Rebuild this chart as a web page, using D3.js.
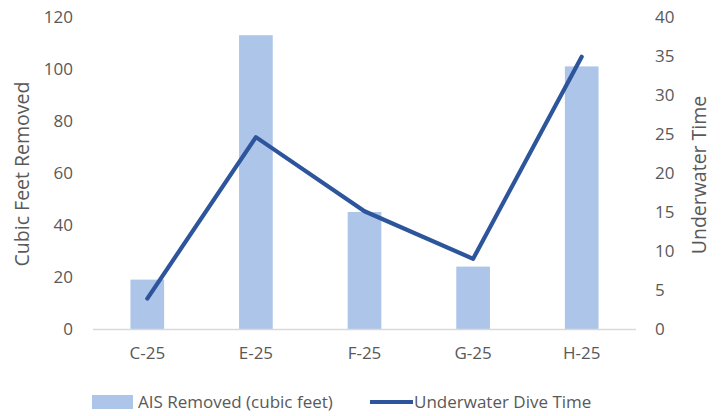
<!DOCTYPE html>
<html><head><meta charset="utf-8">
<script src="https://cdn.jsdelivr.net/npm/d3@7"></script>
<style>body{margin:0;background:#fff}svg{display:block}text{font-family:"Open Sans","Noto Sans",sans-serif;fill:#595959}</style>
</head><body><svg id="c" width="723" height="416"></svg>
<script>
const categories = ["C-25","E-25","F-25","G-25","H-25"];
const aisRemoved = [19, 113, 45, 24, 101];
const diveTime = [3.9, 24.6, 15.1, 9.0, 34.9];
const leftTicks = [0,20,40,60,80,100,120];
const rightTicks = [0,5,10,15,20,25,30,35,40];

const svg = d3.select("#c");
const L = 93, R = 636, T = 17, B = 329;
const x = d3.scaleBand().domain(categories).range([L, R]).paddingInner(0.69).paddingOuter(0.345);
const xc = d3.scaleBand().domain(categories).range([L, R]);
const yL = d3.scaleLinear().domain([0,120]).range([B, T]);
const yR = d3.scaleLinear().domain([0,40]).range([B, T]);
const fs = 17;

svg.selectAll("rect.bar").data(categories).join("rect").attr("class","bar")
  .attr("x", d => x(d)).attr("width", x.bandwidth())
  .attr("y", (d,i) => yL(aisRemoved[i])).attr("height", (d,i) => B - yL(aisRemoved[i]))
  .attr("fill", "#ADC5E9");

svg.append("line").attr("x1", L).attr("x2", R).attr("y1", B+0.5).attr("y2", B+0.5)
  .attr("stroke", "#D9D9D9").attr("stroke-width", 1.5);

const line = d3.line().x((d,i) => xc(categories[i]) + xc.bandwidth()/2).y(d => yR(d));
svg.append("path").datum(diveTime).attr("d", line).attr("fill","none")
  .attr("stroke","#2C559B").attr("stroke-width",4.2).attr("stroke-linecap","round").attr("stroke-linejoin","round");

const axL = svg.append("g").attr("transform", `translate(${L},0)`)
  .call(d3.axisLeft(yL).tickValues(leftTicks).tickSize(0).tickPadding(20));
axL.select(".domain").remove();
axL.selectAll("text").attr("font-size", fs).attr("fill","#595959").attr("font-family",null);

const axR = svg.append("g").attr("transform", `translate(${R},0)`)
  .call(d3.axisRight(yR).tickValues(rightTicks).tickSize(0).tickPadding(19));
axR.select(".domain").remove();
axR.selectAll("text").attr("font-size", fs).attr("fill","#595959").attr("font-family",null);

const axB = svg.append("g").attr("transform", `translate(0,${B})`)
  .call(d3.axisBottom(xc).tickSize(0).tickPadding(18));
axB.select(".domain").remove();
axB.selectAll("text").attr("font-size", fs).attr("fill","#595959").attr("font-family",null);

svg.append("text").attr("transform", `translate(22,174) rotate(-90)`)
  .attr("text-anchor","middle").attr("dy","0.35em").attr("font-size", 19.5).text("Cubic Feet Removed");
svg.append("text").attr("transform", `translate(699,175) rotate(-90)`)
  .attr("text-anchor","middle").attr("dy","0.35em").attr("font-size", 19.5).text("Underwater Time");

const ly = 402;
svg.append("rect").attr("x", 92).attr("y", ly-7).attr("width", 41).attr("height", 14).attr("fill","#ADC5E9");
svg.append("text").attr("x", 138).attr("y", ly).attr("dy","0.35em").attr("font-size", fs).text("AIS Removed (cubic feet)");
svg.append("line").attr("x1", 370).attr("x2", 413).attr("y1", ly).attr("y2", ly).attr("stroke","#2C559B").attr("stroke-width",4.2);
svg.append("text").attr("x", 414).attr("y", ly).attr("dy","0.35em").attr("font-size", fs).text("Underwater Dive Time");
</script></body></html>
